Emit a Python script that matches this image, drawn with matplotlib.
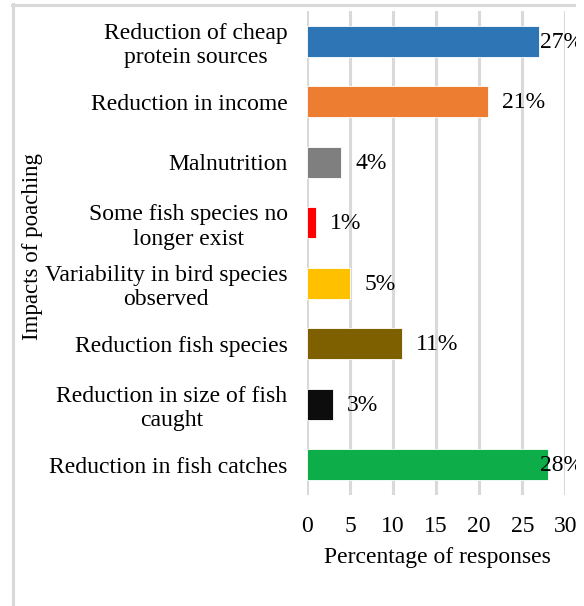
import matplotlib
matplotlib.use("Agg")
import matplotlib.pyplot as plt
from matplotlib.lines import Line2D
from matplotlib.patches import Rectangle

categories = [
    "Reduction of cheap\nprotein sources",
    "Reduction in income",
    "Malnutrition",
    "Some fish species no\nlonger exist",
    "Variability in bird species\nobserved",
    "Reduction fish species",
    "Reduction in size of fish\ncaught",
    "Reduction in fish catches",
]
values = [27, 21, 4, 1, 5, 11, 3, 28]
value_labels = ["27%", "21%", "4%", "1%", "5%", "11%", "3%", "28%"]
colors = ["#2E75B6", "#ED7D31", "#7F7F7F", "#FF0000", "#FFC000", "#7F6000", "#0D0D0D", "#0DAD4A"]
xticks = [0, 5, 10, 15, 20, 25, 30]

plt.rcParams['font.family'] = ['Liberation Serif', 'DejaVu Serif']
FS = 17

W, H = 584, 606
fig = plt.figure(figsize=(W / 100, H / 100), dpi=100)
L, R, T, B = 307, 565.3, 11, 495
ax = fig.add_axes([L / W, 1 - B / H, (R - L) / W, (B - T) / H])

n = len(categories)
ypos = list(range(n))
ax.barh(ypos, values, height=0.51, color=colors, edgecolor="white", linewidth=0.6, zorder=3)
ax.set_ylim(n - 0.5, -0.5)
ax.set_xlim(0, 30)
ax.set_xticks(xticks)
ax.set_xticklabels([str(t) for t in xticks], fontsize=FS)
ax.set_yticks(ypos)
ax.set_yticklabels(categories, fontsize=FS, linespacing=1.22)
for lbl in ax.get_yticklabels():
    lbl.set_multialignment('center')
ax.tick_params(axis='both', length=0)
ax.tick_params(axis='y', pad=14)
ax.tick_params(axis='x', pad=15)
for s in ax.spines.values():
    s.set_visible(False)
ax.grid(axis='x', color='#D9D9D9', linewidth=2.2, zorder=0)
ax.set_axisbelow(True)

for y, v, t in zip(ypos, values, value_labels):
    xpos = min(v + 1.63, 27.1)
    ax.text(xpos, y + 0.02, t, fontsize=FS, va='center', ha='left', zorder=4, clip_on=False)

fig.text(437 / W, 1 - 557 / H, "Percentage of responses", fontsize=FS, ha='center', va='center')
fig.text(33 / W, 1 - 247 / H, "Impacts of poaching", fontsize=16.5, ha='center', va='center', rotation=90)

# outer frame (left and top lines)
fig.add_artist(Line2D([13.3 / W, 13.3 / W], [0, 1 - 4 / H], color='#D9D9D9', linewidth=2.2, zorder=5))
fig.add_artist(Line2D([12 / W, 576 / W], [1 - 5 / H, 1 - 5 / H], color='#D9D9D9', linewidth=2.2, zorder=5))
# right-edge clipping strip
fig.add_artist(Rectangle((576 / W, 0), (W - 576) / W, 1, transform=fig.transFigure,
                         facecolor='white', edgecolor='none', zorder=10))

fig.savefig("out.png", dpi=100)
